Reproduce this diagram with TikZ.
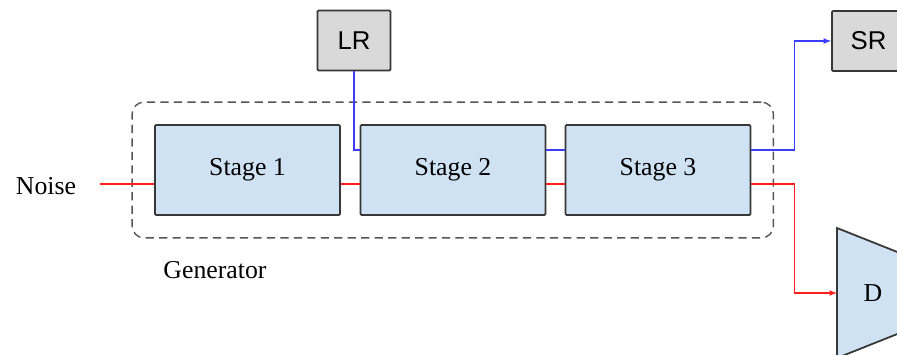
\documentclass[tikz,border=0pt]{standalone}
\usepackage{fontspec}
\setmainfont{Liberation Serif}
\newfontfamily\arialfont{Liberation Sans}
\usetikzlibrary{fit}

\definecolor{boxblue}{RGB}{207,226,243}
\definecolor{boxgray}{RGB}{217,217,217}
\definecolor{edgegray}{RGB}{55,55,55}
\definecolor{dashgray}{RGB}{85,85,85}
\definecolor{lineblue}{RGB}{60,60,255}
\definecolor{linered}{RGB}{255,30,30}

\tikzset{
  stagebox/.style={draw=edgegray, fill=boxblue, line width=1.5pt, rounded corners=1pt,
    minimum width=5.55cm, minimum height=2.7cm, font=\fontsize{22}{26}\selectfont},
  imgbox/.style={draw=edgegray, fill=boxgray, line width=1.5pt, rounded corners=1pt,
    minimum width=2.19cm, minimum height=1.8cm, font=\arialfont\fontsize{22}{26}\selectfont},
  group/.style={draw=dashgray, dash pattern=on 7pt off 4.5pt, line width=1.2pt,
    rounded corners=0.36cm, inner sep=0.66cm},
  txt/.style={font=\fontsize{22}{26}\selectfont},
  redline/.style={draw=linered, line width=1.2pt},
  blueline/.style={draw=lineblue, line width=1.2pt}
}

\begin{document}
\begin{tikzpicture}[x=0.03cm, y=-0.03cm]
\useasboundingbox (0,0) rectangle (897,354);
\clip (0,0) rectangle (897,354);

% generator stages
\node[stagebox] (S1) at (247.5,170) {Stage 1};
\node[stagebox] (S2) at (453,170) {Stage 2};
\node[stagebox] (S3) at (658,170) {Stage 3};
\node[group, fit=(S1)(S3)] (gen) {};
\node[txt] (gentxt) at (215,270) {Generator};

% inputs
\node[txt] (noise) at (46,186) {Noise};
\coordinate (noisestart) at (100,184);
\node[imgbox] (LR) at (354,40.5) {LR};

% outputs
\node[imgbox] (SR) at (868.5,41) {SR};
\draw[draw=edgegray, fill=boxblue, line width=1.5pt] (837,228) -- (930,265) -- (930,321) -- (837,358) -- cycle;
\node[txt] (D) at (873,293) {D};
\coordinate (Din) at (837,293);

% red path
\draw[redline] (noisestart) -- (noisestart -| S1.west);
\draw[redline] ([yshift=-0.42cm]S1.east) -- ([yshift=-0.42cm]S2.west);
\draw[redline] ([yshift=-0.42cm]S2.east) -- ([yshift=-0.42cm]S3.west);
\draw[redline, -latex] ([yshift=-0.42cm]S3.east) -- ++(43,0) |- (Din);

% blue path
\draw[blueline] (LR.south) |- ([yshift=0.6cm]S2.west);
\draw[blueline] ([yshift=0.6cm]S2.east) -- ([yshift=0.6cm]S3.west);
\draw[blueline, -latex] ([yshift=0.6cm]S3.east) -- ++(43,0) |- (SR.west);
\end{tikzpicture}
\end{document}
